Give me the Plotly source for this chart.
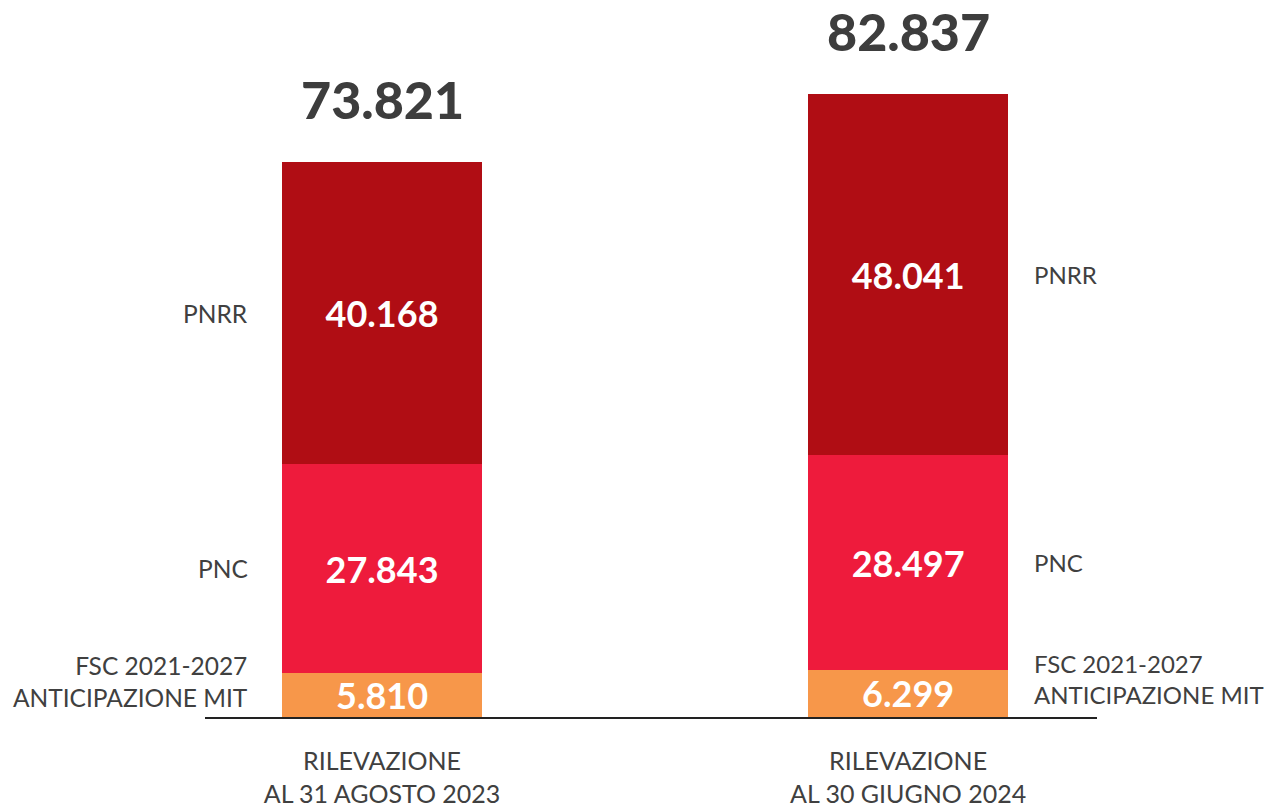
import plotly.graph_objects as go

# === DATA ===
categories = ["RILEVAZIONE<br>AL 31 AGOSTO 2023", "RILEVAZIONE<br>AL 30 GIUGNO 2024"]
series_names = ["FSC 2021-2027<br>ANTICIPAZIONE MIT", "PNC", "PNRR"]
fsc_values = [5810, 6299]
pnc_values = [27843, 28497]
pnrr_values = [40168, 48041]
totals = [73821, 82837]

colors = ["#F7974A", "#EE1B3C", "#B00D14"]
label_color = "#404040"
FONT = "Lato"
BAR_W = 0.38

x_pos = [0, 1]
stack = [fsc_values, pnc_values, pnrr_values]


def it_fmt(v):
    # Italian thousands separator
    return f"{v:,.0f}".replace(",", ".")


fig = go.Figure()

for name, vals, col in zip(series_names, stack, colors):
    fig.add_trace(go.Bar(
        x=x_pos,
        y=vals,
        name=name,
        width=BAR_W,
        marker=dict(color=col, line=dict(width=0)),
        text=[it_fmt(v) for v in vals],
        textposition="inside",
        insidetextanchor="middle",
        textangle=0,
        constraintext="none",
        textfont=dict(family=FONT, size=36, color="white", weight="bold"),
        hoverinfo="skip",
    ))

# totals above the bars
for xi, tot in zip(x_pos, totals):
    fig.add_annotation(
        x=xi, y=tot, text=it_fmt(tot), showarrow=False,
        yanchor="middle", yshift=63,
        font=dict(family=FONT, size=52, color="#3D3D3D", weight=900),
    )

# series labels: left of first bar, right of second bar
for k, name in enumerate(series_names):
    for i, xi in enumerate(x_pos):
        below = sum(stack[j][i] for j in range(k))
        mid = below + stack[k][i] / 2
        shift_y = 14 if k == 0 else 0
        if i == 0:
            fig.add_annotation(
                x=xi - BAR_W / 2, y=mid, text=name, showarrow=False,
                xanchor="right", xshift=-32, yshift=shift_y, align="right",
                font=dict(family=FONT, size=24.5, color=label_color),
            )
        else:
            fig.add_annotation(
                x=xi + BAR_W / 2, y=mid, text=name, showarrow=False,
                xanchor="left", xshift=24, yshift=shift_y, align="left",
                font=dict(family=FONT, size=24, color=label_color),
            )

fig.update_layout(
    barmode="stack",
    width=1268,
    height=801,
    margin=dict(l=197, r=179, t=0, b=92),
    plot_bgcolor="white",
    paper_bgcolor="white",
    showlegend=False,
    separators=",.",
)

fig.update_xaxes(
    range=[-0.3365, 1.359],
    tickvals=x_pos,
    ticktext=categories,
    tickfont=dict(family=FONT, size=25, color=label_color),
    showgrid=False, zeroline=False,
    showline=True, linecolor="#222222", linewidth=2,
    ticks="", ticklabelstandoff=21,
    automargin=False, fixedrange=True,
)
fig.update_yaxes(
    range=[0, 94330],
    visible=False, showgrid=False, zeroline=False,
    automargin=False, fixedrange=True,
)

fig.write_html("out.html")
